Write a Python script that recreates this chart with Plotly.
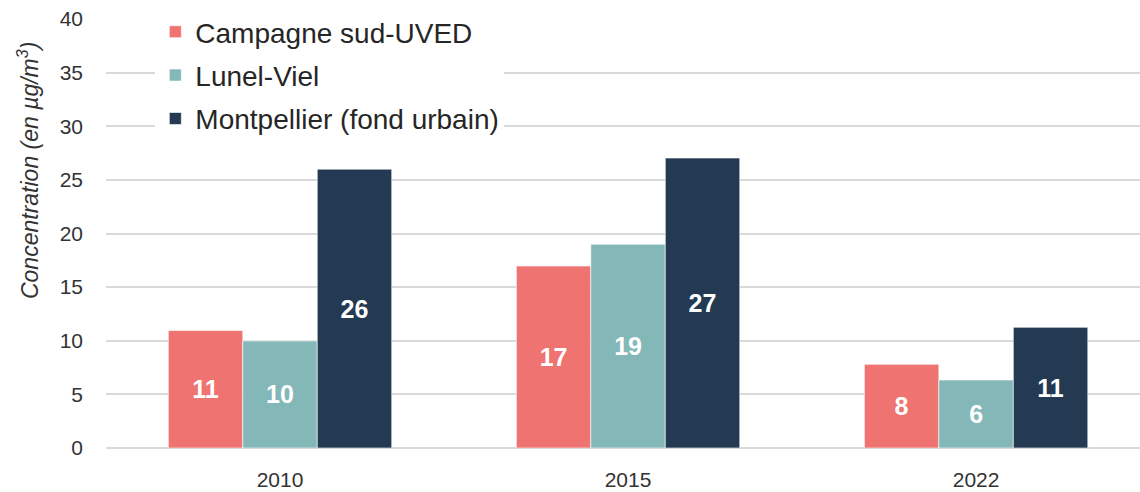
import plotly.graph_objects as go

years = ["2010", "2015", "2022"]
series_names = ["Campagne sud-UVED", "Lunel-Viel", "Montpellier (fond urbain)"]
campagne = [10.95, 16.97, 7.8]
lunel = [9.98, 19.0, 6.34]
montpellier = [26.0, 27.04, 11.25]
colors = ["#EF7370", "#84B7B8", "#243A52"]
y_ticks = [0, 5, 10, 15, 20, 25, 30, 35, 40]
y_title = "<i>Concentration (en µg/m<sup>3</sup>)</i>"

FONT = "Liberation Sans, Arial, sans-serif"

fig = go.Figure()
for name, vals, col in zip(series_names, [campagne, lunel, montpellier], colors):
    fig.add_trace(go.Bar(
        x=years, y=vals, name=name, legendgroup=name,
        marker=dict(color=col, line=dict(color="rgba(255,255,255,0.6)", width=1)),
        texttemplate="%{y:.0f}", textposition="inside", insidetextanchor="middle",
        textangle=0,
        textfont=dict(family=FONT, size=25, color="white", weight="bold"),
        hoverinfo="skip",
    ))

fig.add_annotation(
    text=y_title, xref="paper", yref="paper", x=-0.0754, y=0.6457,
    xanchor="center", yanchor="middle", textangle=-90, showarrow=False,
    font=dict(family=FONT, size=23, color="#333333"),
)

fig.update_layout(
    width=1140, height=492,
    margin=dict(l=106, r=0, t=19, b=44),
    plot_bgcolor="white", paper_bgcolor="white",
    barmode="group", bargap=0.358, bargroupgap=0,
    font=dict(family=FONT, color="#333333"),
    showlegend=True,
    legend=dict(
        x=0.0477, y=1.028, xanchor="left", yanchor="top",
        bgcolor="white", font=dict(family=FONT, size=28, color="#262626"),
        tracegroupgap=4, traceorder="grouped",
    ),
    xaxis=dict(
        type="category", range=[-0.5, 2.471], automargin=False,
        showgrid=False, showline=False, zeroline=False,
        tickfont=dict(family=FONT, size=21, color="#333333"),
        ticks="", ticklabelstandoff=17,
    ),
    yaxis=dict(
        range=[0, 40], tickvals=y_ticks, automargin=False,
        showgrid=True, gridcolor="#D9D9D9", gridwidth=1.5,
        zeroline=True, zerolinecolor="#D9D9D9", zerolinewidth=1.5,
        showline=False, ticks="",
        tickfont=dict(family=FONT, size=21, color="#333333"),
        ticklabelstandoff=22,
    ),
)

fig.write_html("out.html", config={"displayModeBar": False},
               post_script="document.body.style.margin='0';")
